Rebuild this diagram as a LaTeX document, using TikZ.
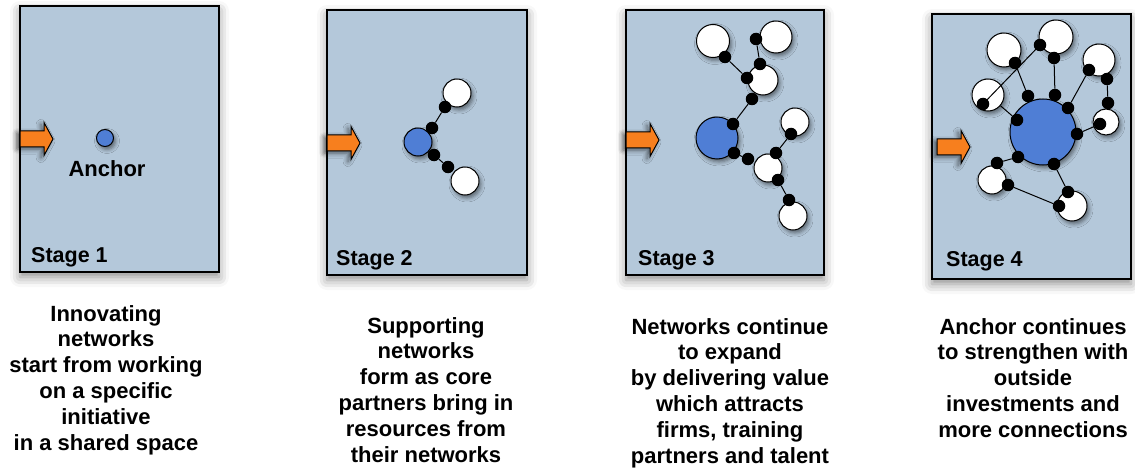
\documentclass[tikz,border=0pt]{standalone}
\usepackage{fontspec}
\setmainfont{Liberation Sans}
\usetikzlibrary{shadows.blur}
\definecolor{panelblue}{HTML}{B4C8DA}
\definecolor{anchorblue}{HTML}{4F7ED5}
\definecolor{arroworange}{HTML}{F77F1E}
\tikzset{
  panel/.style={draw=black, line width=1.3pt, fill=panelblue,
    blur shadow={shadow xshift=0pt, shadow yshift=-5pt, shadow blur radius=10pt, shadow opacity=45}},
  stagearrowstyle/.style={draw=black, line width=1pt, fill=arroworange, line join=miter,
    blur shadow={shadow xshift=-3pt, shadow yshift=-2pt, shadow blur radius=5pt, shadow opacity=60}},
  anchornode/.style={circle, draw=black, line width=1pt, fill=anchorblue, inner sep=0pt,
    blur shadow={shadow xshift=2pt, shadow yshift=-3pt, shadow blur radius=4pt, shadow opacity=50}},
  partner/.style={circle, draw=black, line width=1pt, fill=white, inner sep=0pt,
    blur shadow={shadow xshift=2pt, shadow yshift=-3pt, shadow blur radius=4pt, shadow opacity=50}},
  joint/.style={circle, fill=black, inner sep=0pt, minimum size=12.5pt},
  link/.style={line width=1pt, black},
  caption/.style={font=\fontsize{22}{25.8}\selectfont\bfseries, align=center, inner sep=0pt, anchor=north},
  stagelabel/.style={font=\fontsize{21.5}{25}\selectfont\bfseries, inner sep=0pt, anchor=base west},
}
\newcommand\stagearrow[2]{%
  \path[stagearrowstyle] (#1,#2-8) -- ++(24,0) -- ++(0,-8.5) -- ++(9,16.5) -- ++(-9,16.5)
    -- ++(0,-8.5) -- ++(-24,0) -- cycle;}
\begin{document}
\begin{tikzpicture}[x=1pt,y=-1pt]
\useasboundingbox (0,0) rectangle (1135,468);

% ---------- panels ----------
\path[panel] (20,6) rectangle (219,272);
\path[panel] (327,10) rectangle (527,275);
\path[panel] (626,10) rectangle (824,275);
\path[panel] (932,14) rectangle (1131,279);

% ---------- arrows ----------
\stagearrow{20}{139}
\stagearrow{327}{143}
\stagearrow{626}{140}
\stagearrow{937}{147}

% ---------- Stage 1 ----------
\node[anchornode, minimum size=17pt] (a1) at (105,138) {};
\node[font=\fontsize{22}{25}\selectfont\bfseries, inner sep=0pt, anchor=base] (anchorlabel) at (107,176) {Anchor};
\node[stagelabel] (s1) at (31,262) {Stage 1};

% ---------- Stage 2 ----------
\node[anchornode, minimum size=28pt] (b2) at (418,142) {};
\node[partner, minimum size=28pt] (w2a) at (457,93) {};
\node[partner, minimum size=28pt] (w2b) at (465,181) {};
\node[joint] (d2a) at (432,128) {};
\node[joint] (d2b) at (445,107) {};
\node[joint] (d2c) at (434,155) {};
\node[joint] (d2d) at (448,167) {};
\draw[link] (d2a) -- (d2b);
\draw[link] (d2c) -- (d2d);
\node[stagelabel] (s2) at (336,265) {Stage 2};

% ---------- Stage 3 ----------
\node[anchornode, minimum size=42pt] (b3) at (717,138) {};
\node[partner, minimum size=33pt] (w3a) at (713,41) {};
\node[partner, minimum size=32pt] (w3b) at (776,37) {};
\node[partner, minimum size=30pt] (w3c) at (763,80) {};
\node[partner, minimum size=28pt] (w3d) at (795,122) {};
\node[partner, minimum size=28pt] (w3e) at (768,168) {};
\node[partner, minimum size=28pt] (w3f) at (793,216) {};
\node[joint] (d3a) at (733,124) {};
\node[joint] (d3b) at (752,99) {};
\node[joint] (d3c) at (747,78) {};
\node[joint] (d3d) at (725,57) {};
\node[joint] (d3e) at (760,64) {};
\node[joint] (d3f) at (756,39) {};
\node[joint] (d3g) at (734,153) {};
\node[joint] (d3h) at (748,159) {};
\node[joint] (d3i) at (776,153) {};
\node[joint] (d3j) at (791,134) {};
\node[joint] (d3k) at (778,180) {};
\node[joint] (d3l) at (789,200) {};
\draw[link] (d3a) -- (d3b);
\draw[link] (d3d) -- (d3c);
\draw[link] (d3e) -- (d3f);
\draw[link] (d3g) -- (d3h);
\draw[link] (d3i) -- (d3j);
\draw[link] (d3k) -- (d3l);
\node[stagelabel] (s3) at (638,265) {Stage 3};

% ---------- Stage 4 ----------
\node[anchornode, minimum size=66pt] (b4) at (1043,132) {};
\node[partner, minimum size=34pt] (w4a) at (1004,50) {};
\node[partner, minimum size=34pt] (w4b) at (1056,37) {};
\node[partner, minimum size=32pt] (w4c) at (1099,60) {};
\node[partner, minimum size=32pt] (w4d) at (988,95) {};
\node[partner, minimum size=26pt] (w4e) at (1106,122) {};
\node[partner, minimum size=28pt] (w4f) at (992,180) {};
\node[partner, minimum size=30pt] (w4g) at (1072,206) {};
\node[joint] (e1) at (1040,45) {};
\node[joint] (e2) at (983,104) {};
\node[joint] (e3) at (1015,63) {};
\node[joint] (e4) at (1028,96) {};
\node[joint] (e5) at (1054,58) {};
\node[joint] (e6) at (1055,95) {};
\node[joint] (e7) at (1089,70) {};
\node[joint] (e8) at (1068,108) {};
\node[joint] (e9) at (1107,79) {};
\node[joint] (e10) at (1108,103) {};
\node[joint] (e11) at (1100,124) {};
\node[joint] (e12) at (1077,134) {};
\node[joint] (e13) at (1017,120) {};
\node[joint] (e14) at (1018,157) {};
\node[joint] (e15) at (997,163) {};
\node[joint] (e16) at (1008,185) {};
\node[joint] (e17) at (1059,206) {};
\node[joint] (e18) at (1054,164) {};
\node[joint] (e19) at (1068,192) {};
\draw[link] (e1.center) -- (e2.center);
\draw[link] (e3) -- (e4);
\draw[link] (e5) -- (e6);
\draw[link] (e7) -- (e8);
\draw[link] (e9) -- (e10);
\draw[link] (e11) -- (e12);
\draw[link] (w4d) -- (e13);
\draw[link] (e14) -- (e15);
\draw[link] (e16) -- (e17);
\draw[link] (e18) -- (e19);
\node[stagelabel] (s4) at (946,266) {Stage 4};

% ---------- captions ----------
\node[caption] (c1) at (106,305) {Innovating\\networks\\start from working\\on a specific\\initiative\\in a shared space};
\node[caption] (c2) at (426,317) {Supporting\\networks\\form as core\\partners bring in\\resources from\\their networks};
\node[caption] (c3) at (730,318) {Networks continue\\to expand\\by delivering value\\which attracts\\firms, training\\partners and talent};
\node[caption] (c4) at (1033,318) {Anchor continues\\to strengthen with\\outside\\investments and\\more connections};
\end{tikzpicture}
\end{document}
